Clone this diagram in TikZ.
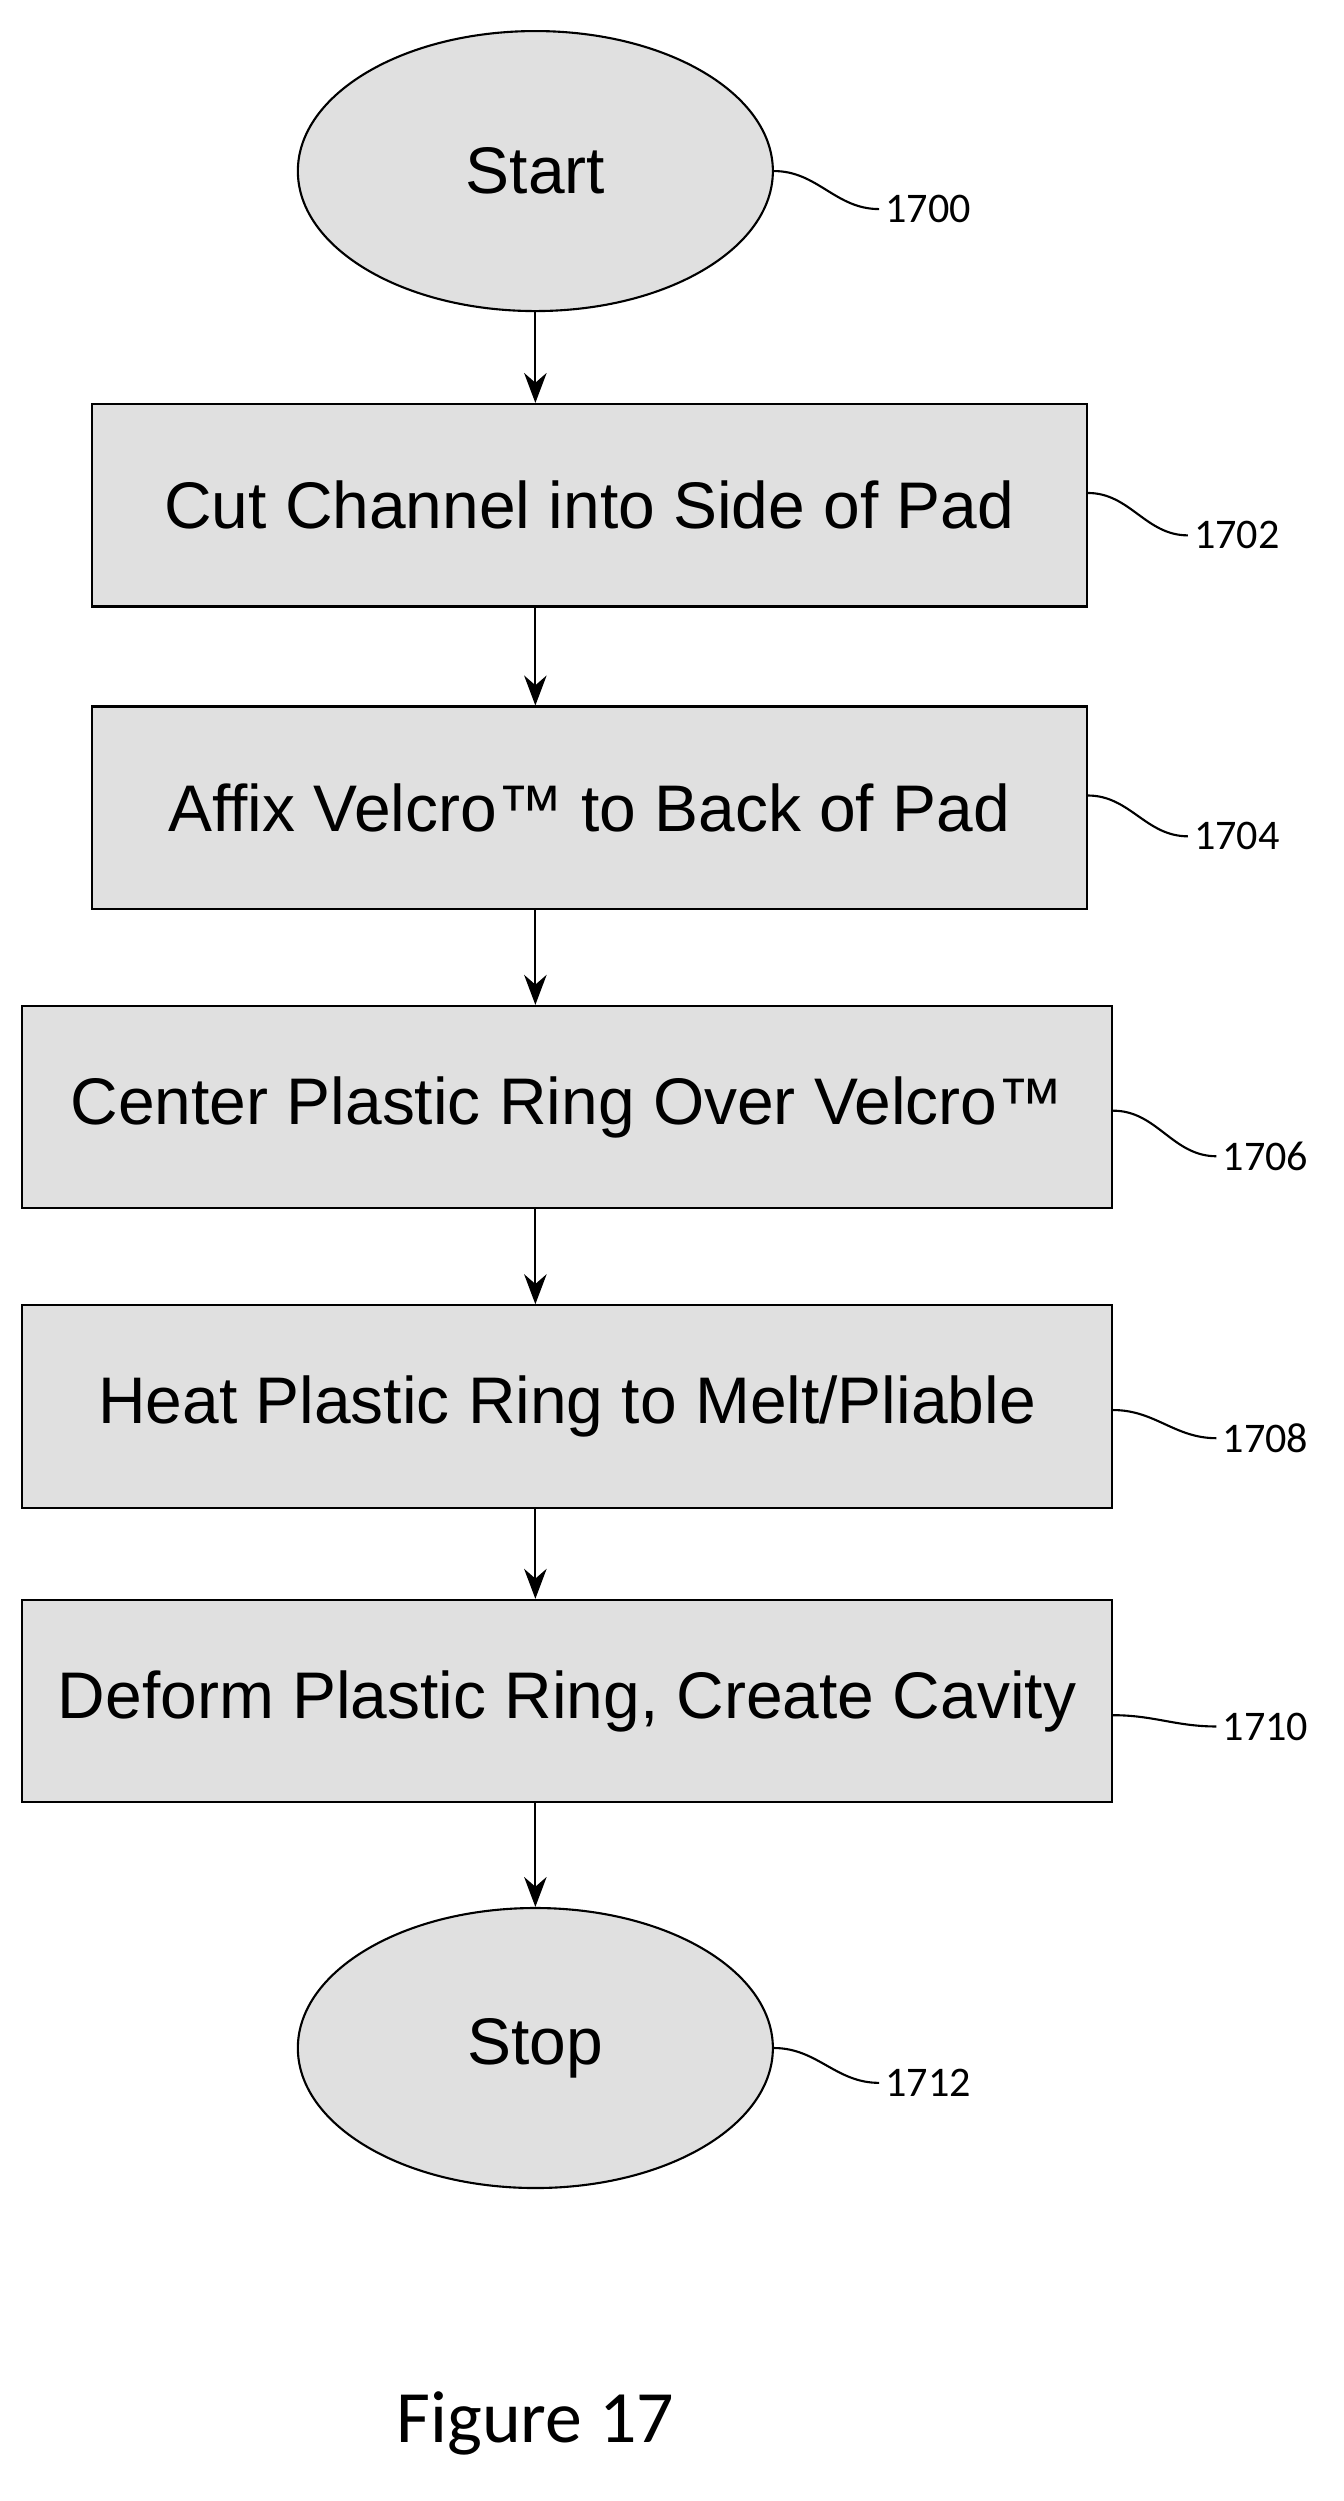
\documentclass[tikz,border=0pt]{standalone}
\usepackage{fontspec}
\setmainfont{Liberation Sans}
\newfontfamily\lblfont{Carlito}
\usetikzlibrary{shapes.geometric,arrows.meta}
\tikzset{
  process/.style={draw,very thick,fill=black!12,minimum width=19.9cm,minimum height=4.05cm,font=\fontsize{37.5}{42}\selectfont},
  term/.style={ellipse,draw,very thick,fill=black!12,minimum width=9.5cm,minimum height=5.6cm,font=\fontsize{37.5}{42}\selectfont},
  ref/.style={font=\lblfont\fontsize{24}{26}\selectfont,anchor=west},
  flow/.style={-{Stealth[length=0.6cm,width=0.45cm]},very thick},
  lead/.style={very thick}
}
\begin{document}
\begin{tikzpicture}[x=0.03168cm,y=-0.03168cm]
    \useasboundingbox (0,0) rectangle (848,1579);

    % Terminals and steps
    \node[term] (start) at (338,108) {Start};
    \node[process] (s1) at (372,319) {Cut Channel into Side of Pad};
    \node[process] (s2) at (372,510) {Affix Velcro™ to Back of Pad};
    \node[process,minimum width=21.8cm] (s3) at (358,699) {Center Plastic Ring Over Velcro™};
    \node[process,minimum width=21.8cm] (s4) at (358,888) {Heat Plastic Ring to Melt/Pliable};
    \node[process,minimum width=21.8cm] (s5) at (358,1074) {Deform Plastic Ring, Create Cavity};
    \node[term] (stop) at (338,1293) {Stop};

    % Arrows
    \draw[flow] (start.south) -- (start.south |- s1.north);
    \draw[flow] (s1.south -| start.south) -- (s2.north -| start.south);
    \draw[flow] (s2.south -| start.south) -- (s3.north -| start.south);
    \draw[flow] (s3.south -| start.south) -- (s4.north -| start.south);
    \draw[flow] (s4.south -| start.south) -- (s5.north -| start.south);
    \draw[flow] (s5.south -| start.south) -- (stop.north);

    % Reference numerals
    \node[ref] (r0) at (555,132) {1700};
    \node[ref] (r1) at (750,338) {1702};
    \node[ref] (r2) at (750,528) {1704};
    \node[ref] (r3) at (768,730) {1706};
    \node[ref] (r4) at (768,908) {1708};
    \node[ref] (r5) at (768,1090) {1710};
    \node[ref] (r6) at (555,1315) {1712};
    \draw[lead] (start.east) to[out=0,in=180] (r0.west);
    \draw[lead] ([yshift=7]s1.east) to[out=0,in=180] (r1.west);
    \draw[lead] ([yshift=7]s2.east) to[out=0,in=180] (r2.west);
    \draw[lead] ([yshift=-2]s3.east) to[out=0,in=180] (r3.west);
    \draw[lead] ([yshift=-2]s4.east) to[out=0,in=180] (r4.west);
    \draw[lead] ([yshift=-8]s5.east) to[out=0,in=180] (r5.west);
    \draw[lead] (stop.east) to[out=0,in=180] (r6.west);

    \node[font=\lblfont\fontsize{42}{46}\selectfont] (fig) at (338,1530) {Figure 17};
\end{tikzpicture}
\end{document}
